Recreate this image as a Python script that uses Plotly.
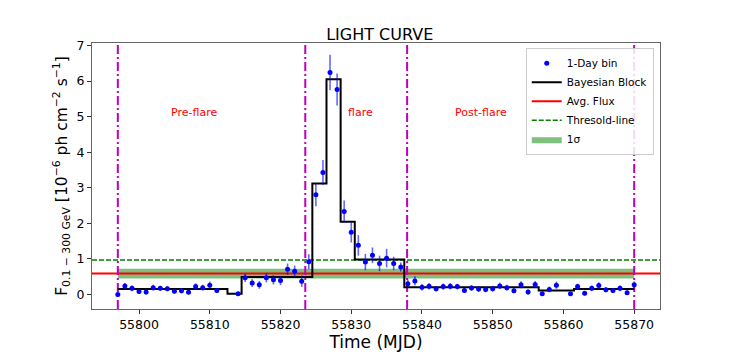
import plotly.graph_objects as go

# ---------------- data ----------------
mjd = [55797, 55798, 55799, 55800, 55801, 55802, 55803, 55804, 55805, 55806,
       55807, 55808, 55809, 55810, 55811,
       55814, 55815, 55816, 55817, 55818, 55819, 55820, 55821, 55822, 55823,
       55824, 55825, 55826, 55827, 55828, 55829, 55830, 55831, 55832, 55833,
       55834, 55835, 55836, 55837, 55838, 55839, 55840, 55841, 55842, 55843,
       55844, 55845, 55846, 55847, 55848, 55849, 55850, 55851, 55852, 55853,
       55854, 55855, 55856, 55857, 55858, 55859,
       55861, 55862, 55863, 55864, 55865, 55866, 55867, 55868, 55869, 55870]

flux = [0.00, 0.24, 0.17, 0.08, 0.07, 0.19, 0.17, 0.16, 0.09, 0.10,
        0.06, 0.22, 0.19, 0.26, 0.11,
        0.02, 0.47, 0.32, 0.27, 0.47, 0.41, 0.39, 0.71, 0.65, 0.37,
        0.92, 2.80, 3.43, 6.24, 5.76, 2.33, 1.75, 1.38, 0.91, 1.10,
        0.87, 1.02, 0.87, 0.77, 0.30, 0.38, 0.20, 0.23, 0.16, 0.22,
        0.23, 0.22, 0.11, 0.18, 0.15, 0.14, 0.16, 0.24, 0.19, 0.10,
        0.27, 0.07, 0.28, 0.02, 0.14, 0.26,
        0.02, 0.22, 0.03, 0.17, 0.25, 0.13, 0.11, 0.17, 0.05, 0.27]

flux_err = [0.05, 0.08, 0.08, 0.06, 0.07, 0.08, 0.07, 0.07, 0.06, 0.07,
            0.05, 0.09, 0.08, 0.10, 0.07,
            0.05, 0.12, 0.11, 0.11, 0.13, 0.13, 0.13, 0.16, 0.16, 0.16,
            0.21, 0.32, 0.35, 0.50, 0.45, 0.31, 0.29, 0.29, 0.23, 0.22,
            0.22, 0.26, 0.19, 0.13, 0.11, 0.13, 0.09, 0.09, 0.08, 0.09,
            0.09, 0.08, 0.07, 0.08, 0.08, 0.08, 0.08, 0.09, 0.08, 0.07,
            0.10, 0.07, 0.10, 0.05, 0.08, 0.10,
            0.05, 0.08, 0.06, 0.08, 0.09, 0.07, 0.07, 0.08, 0.06, 0.09]

block_edges = [55797, 55812.5, 55814.5, 55824.5, 55826.5, 55828.5, 55830.5,
               55837.5, 55856.5, 55861.5, 55870]
block_values = [0.15, 0.02, 0.49, 3.12, 6.05, 2.04, 0.98, 0.20, 0.11, 0.15]

avg_flux = 0.585
sigma = 0.135
threshold = 0.97

phase_bounds = [55797, 55823.5, 55837.9, 55870]
phase_labels = ["Pre-flare", "flare", "Post-flare"]
phase_label_x = [55807.8, 55831.3, 55848.3]
phase_label_y = 5.12

x_ticks = [55800, 55810, 55820, 55830, 55840, 55850, 55860, 55870]
y_ticks = [0, 1, 2, 3, 4, 5, 6, 7]

x_range = [55793.35, 55873.65]
y_range = [-0.41, 7.07]

FONT = "DejaVu Sans"

fig = go.Figure()

# 1 sigma band (between first and last phase boundary)
fig.add_trace(go.Scatter(
    x=[phase_bounds[0], phase_bounds[-1], phase_bounds[-1], phase_bounds[0]],
    y=[avg_flux - sigma, avg_flux - sigma, avg_flux + sigma, avg_flux + sigma],
    fill="toself", fillcolor="rgba(0,128,0,0.5)", line=dict(width=0),
    mode="lines", name="1σ", legendrank=5, hoverinfo="skip"))

# Average flux line
fig.add_trace(go.Scatter(
    x=x_range, y=[avg_flux, avg_flux], mode="lines",
    line=dict(color="#ff0000", width=2), name="Avg. Flux", legendrank=3))

# Threshold line
fig.add_trace(go.Scatter(
    x=x_range, y=[threshold, threshold], mode="lines",
    line=dict(color="#008000", width=1.5, dash="5px,2px"),
    name="Thresold-line", legendrank=4))

# phase boundaries
for xb in phase_bounds:
    fig.add_trace(go.Scatter(
        x=[xb, xb], y=y_range, mode="lines",
        line=dict(color="#bf00bf", width=2, dash="9px,3px,2px,3px"),
        showlegend=False, hoverinfo="skip"))

# Bayesian blocks
fig.add_trace(go.Scatter(
    x=block_edges, y=block_values + [block_values[-1]], mode="lines",
    line=dict(color="black", width=2, shape="hv"),
    name="Bayesian Block", legendrank=2))

# 1-day bins
fig.add_trace(go.Scatter(
    x=mjd, y=flux, mode="markers",
    marker=dict(color="#0000ff", size=5),
    error_y=dict(type="data", array=flux_err, color="rgba(0,0,255,0.6)",
                 thickness=1.6, width=0),
    name="1-Day bin", legendrank=1))

for lbl, lx in zip(phase_labels, phase_label_x):
    fig.add_annotation(x=lx, y=phase_label_y, text=lbl, showarrow=False,
                       font=dict(family=FONT, size=11, color="#ff0000"))

axis_common = dict(showgrid=False, zeroline=False, showline=True,
                   linecolor="#666", linewidth=1, mirror=True,
                   ticks="outside", ticklen=4, tickcolor="#333",
                   tickfont=dict(family=FONT, size=12.5, color="black"))

fig.update_xaxes(range=x_range, tickvals=x_ticks,
                 ticktext=[str(t) for t in x_ticks],
                 title=dict(text="Time (MJD)", standoff=4,
                            font=dict(family=FONT, size=17, color="black")),
                 **axis_common)
fig.update_yaxes(range=y_range, tickvals=y_ticks,
                 title=dict(text="F<sub>0.1 − 300 GeV</sub> [10<sup>−6</sup> ph cm<sup>−2</sup> s<sup>−1</sup>]",
                            standoff=5,
                            font=dict(family=FONT, size=15.5, color="black")),
                 **axis_common)

# The page body adds an 8px offset, so the figure is 8px smaller each way
fig.update_layout(
    width=726, height=352,
    margin=dict(l=84, r=74, t=35, b=39),
    paper_bgcolor="white", plot_bgcolor="white",
    title=dict(text="LIGHT CURVE", x=0.512, xanchor="center", y=0.925,
               yanchor="middle",
               font=dict(family=FONT, size=16, color="black")),
    legend=dict(x=0.989, y=0.982, xanchor="right", yanchor="top",
                bgcolor="rgba(255,255,255,0.85)", bordercolor="#cccccc",
                borderwidth=1, font=dict(family=FONT, size=10.5, color="black"),
                tracegroupgap=0),
    showlegend=True,
    font=dict(family=FONT),
)

fig.write_html("out.html")
